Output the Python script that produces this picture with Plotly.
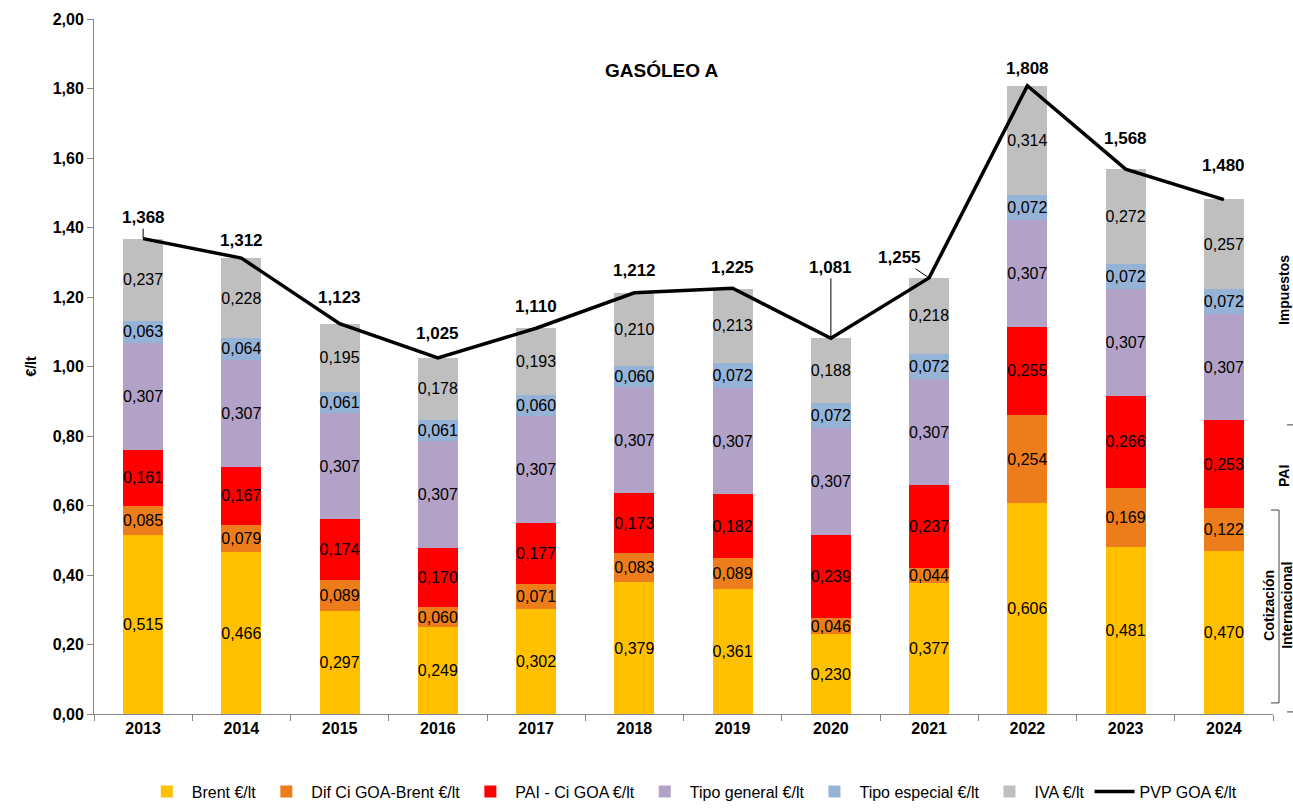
import plotly.graph_objects as go

# ======================================
# DATA
# ======================================

years = ["2013", "2014", "2015", "2016", "2017", "2018",
         "2019", "2020", "2021", "2022", "2023", "2024"]

brent = [0.515, 0.466, 0.297, 0.249, 0.302, 0.379, 0.361, 0.230, 0.377, 0.606, 0.481, 0.470]
dif_ci = [0.085, 0.079, 0.089, 0.060, 0.071, 0.083, 0.089, 0.046, 0.044, 0.254, 0.169, 0.122]
pai = [0.161, 0.167, 0.174, 0.170, 0.177, 0.173, 0.182, 0.239, 0.237, 0.255, 0.266, 0.253]
tipo_general = [0.307] * 12
tipo_especial = [0.063, 0.064, 0.061, 0.061, 0.060, 0.060, 0.072, 0.072, 0.072, 0.072, 0.072, 0.072]
iva = [0.237, 0.228, 0.195, 0.178, 0.193, 0.210, 0.213, 0.188, 0.218, 0.314, 0.272, 0.257]
pvp = [1.368, 1.312, 1.123, 1.025, 1.110, 1.212, 1.225, 1.081, 1.255, 1.808, 1.568, 1.480]

# label offsets (px) for the PVP values
label_dx = [0, 0, 0, 0, 0, 0, 0, 0, -30, 0, 0, 0]
label_dy = [-21, -18, -26, -24, -22, -22, -21, -71, -20, -17, -31, -34]
leader = [True, False, False, False, False, False, False, True, True, False, False, False]

FONT = "Liberation Sans, Arial, sans-serif"
LEGEND_FONT = "Liberation Sans Narrow, Arial Narrow, Liberation Sans, sans-serif"

series = [
    ("Brent €/lt", brent, "#FFC000"),
    ("Dif Ci GOA-Brent €/lt", dif_ci, "#ED7D1A"),
    ("PAI - Ci GOA €/lt", pai, "#FF0000"),
    ("Tipo general €/lt", tipo_general, "#B3A2C7"),
    ("Tipo especial €/lt", tipo_especial, "#95B3D7"),
    ("IVA €/lt", iva, "#BFBFBF"),
]

fig = go.Figure()

for name, vals, color in series:

    fig.add_trace(
        go.Bar(
            x=years,
            y=vals,
            name=name,
            marker=dict(color=color, line=dict(width=0)),
            texttemplate="%{y:.3f}",
            textposition="inside",
            insidetextanchor="middle",
            textangle=0,
            textfont=dict(family=FONT, size=16, color="black"),
            constraintext="none",
        )
    )

fig.add_trace(
    go.Scatter(
        x=years,
        y=pvp,
        mode="lines",
        name="PVP GOA €/lt",
        line=dict(color="black", width=3.5),
    )
)

# ======================================
# PVP LABELS
# ======================================

for i, (v, dx, dy, ld) in enumerate(zip(pvp, label_dx, label_dy, leader)):

    fig.add_annotation(
        x=i,
        y=v,
        text="<b>" + f"{v:.3f}".replace(".", ",") + "</b>",
        showarrow=True,
        arrowhead=0,
        arrowwidth=1,
        arrowcolor="black" if ld else "rgba(0,0,0,0)",
        ax=dx,
        ay=dy,
        xanchor="center",
        yanchor="middle",
        font=dict(family=FONT, size=17, color="black"),
    )

fig.add_annotation(
    x=0.482, xref="paper", y=1.853, yref="y",
    text="<b>GASÓLEO A</b>", showarrow=False,
    font=dict(family=FONT, size=19, color="black"),
)

# right side group labels
side_labels = [
    ("<b>Impuestos</b>", 1.22, 1.0093),
    ("<b>PAI</b>", 0.685, 1.0093),
    ("<b>Cotización<br>Internacional</b>", 0.314, 1.0042),
]

for txt, yv, xv in side_labels:

    fig.add_annotation(
        x=xv, xref="paper", y=yv, yref="y",
        text=txt, showarrow=False, textangle=-90,
        xanchor="center", yanchor="middle",
        font=dict(family=FONT, size=14, color="black"),
    )

line_style = dict(color="#404040", width=1)
fig.add_shape(type="line", xref="paper", yref="y", x0=1.0119, x1=1.0170, y0=0.832, y1=0.832, line=line_style)
fig.add_shape(type="line", xref="paper", yref="y", x0=1.0119, x1=1.0170, y0=0.006, y1=0.006, line=line_style)
fig.add_shape(type="line", xref="paper", yref="y", x0=1.0051, x1=1.0051, y0=0.587, y1=0.032, line=line_style)
fig.add_shape(type="line", xref="paper", yref="y", x0=0.9983, x1=1.0051, y0=0.587, y1=0.587, line=line_style)
fig.add_shape(type="line", xref="paper", yref="y", x0=0.9983, x1=1.0051, y0=0.032, y1=0.032, line=line_style)

fig.update_layout(
    width=1293,
    height=810,
    barmode="stack",
    bargap=0.593,
    separators=",.",
    plot_bgcolor="white",
    paper_bgcolor="white",
    margin=dict(l=94, r=20, t=19, b=96, autoexpand=False),
    font=dict(family=FONT, size=14, color="black"),
    legend=dict(
        orientation="h",
        x=0.507,
        xanchor="center",
        y=-0.136,
        yanchor="bottom",
        font=dict(family=LEGEND_FONT, size=16),
        traceorder="normal",
        itemwidth=40,
    ),
    xaxis=dict(
        type="category",
        range=[-0.5, 11.5],
        automargin=False,
        showline=True,
        linecolor="#868686",
        ticks="outside",
        tickson="boundaries",
        tickcolor="#868686",
        ticklen=6,
        tickfont=dict(family=FONT, size=16, color="black", weight="bold"),
    ),
    yaxis=dict(
        range=[0, 2.0],
        dtick=0.2,
        tickformat=".2f",
        automargin=False,
        showgrid=False,
        zeroline=False,
        showline=True,
        linecolor="#868686",
        ticks="outside",
        tickcolor="#868686",
        ticklen=6,
        tickfont=dict(family=FONT, size=16, color="black", weight="bold"),
        title=dict(text="<b>€/lt</b>", font=dict(family=FONT, size=14), standoff=12),
    ),
)

fig.write_html(
    "out.html",
    config={"displayModeBar": False},
    post_script="document.body.style.margin = '0px';",
)
